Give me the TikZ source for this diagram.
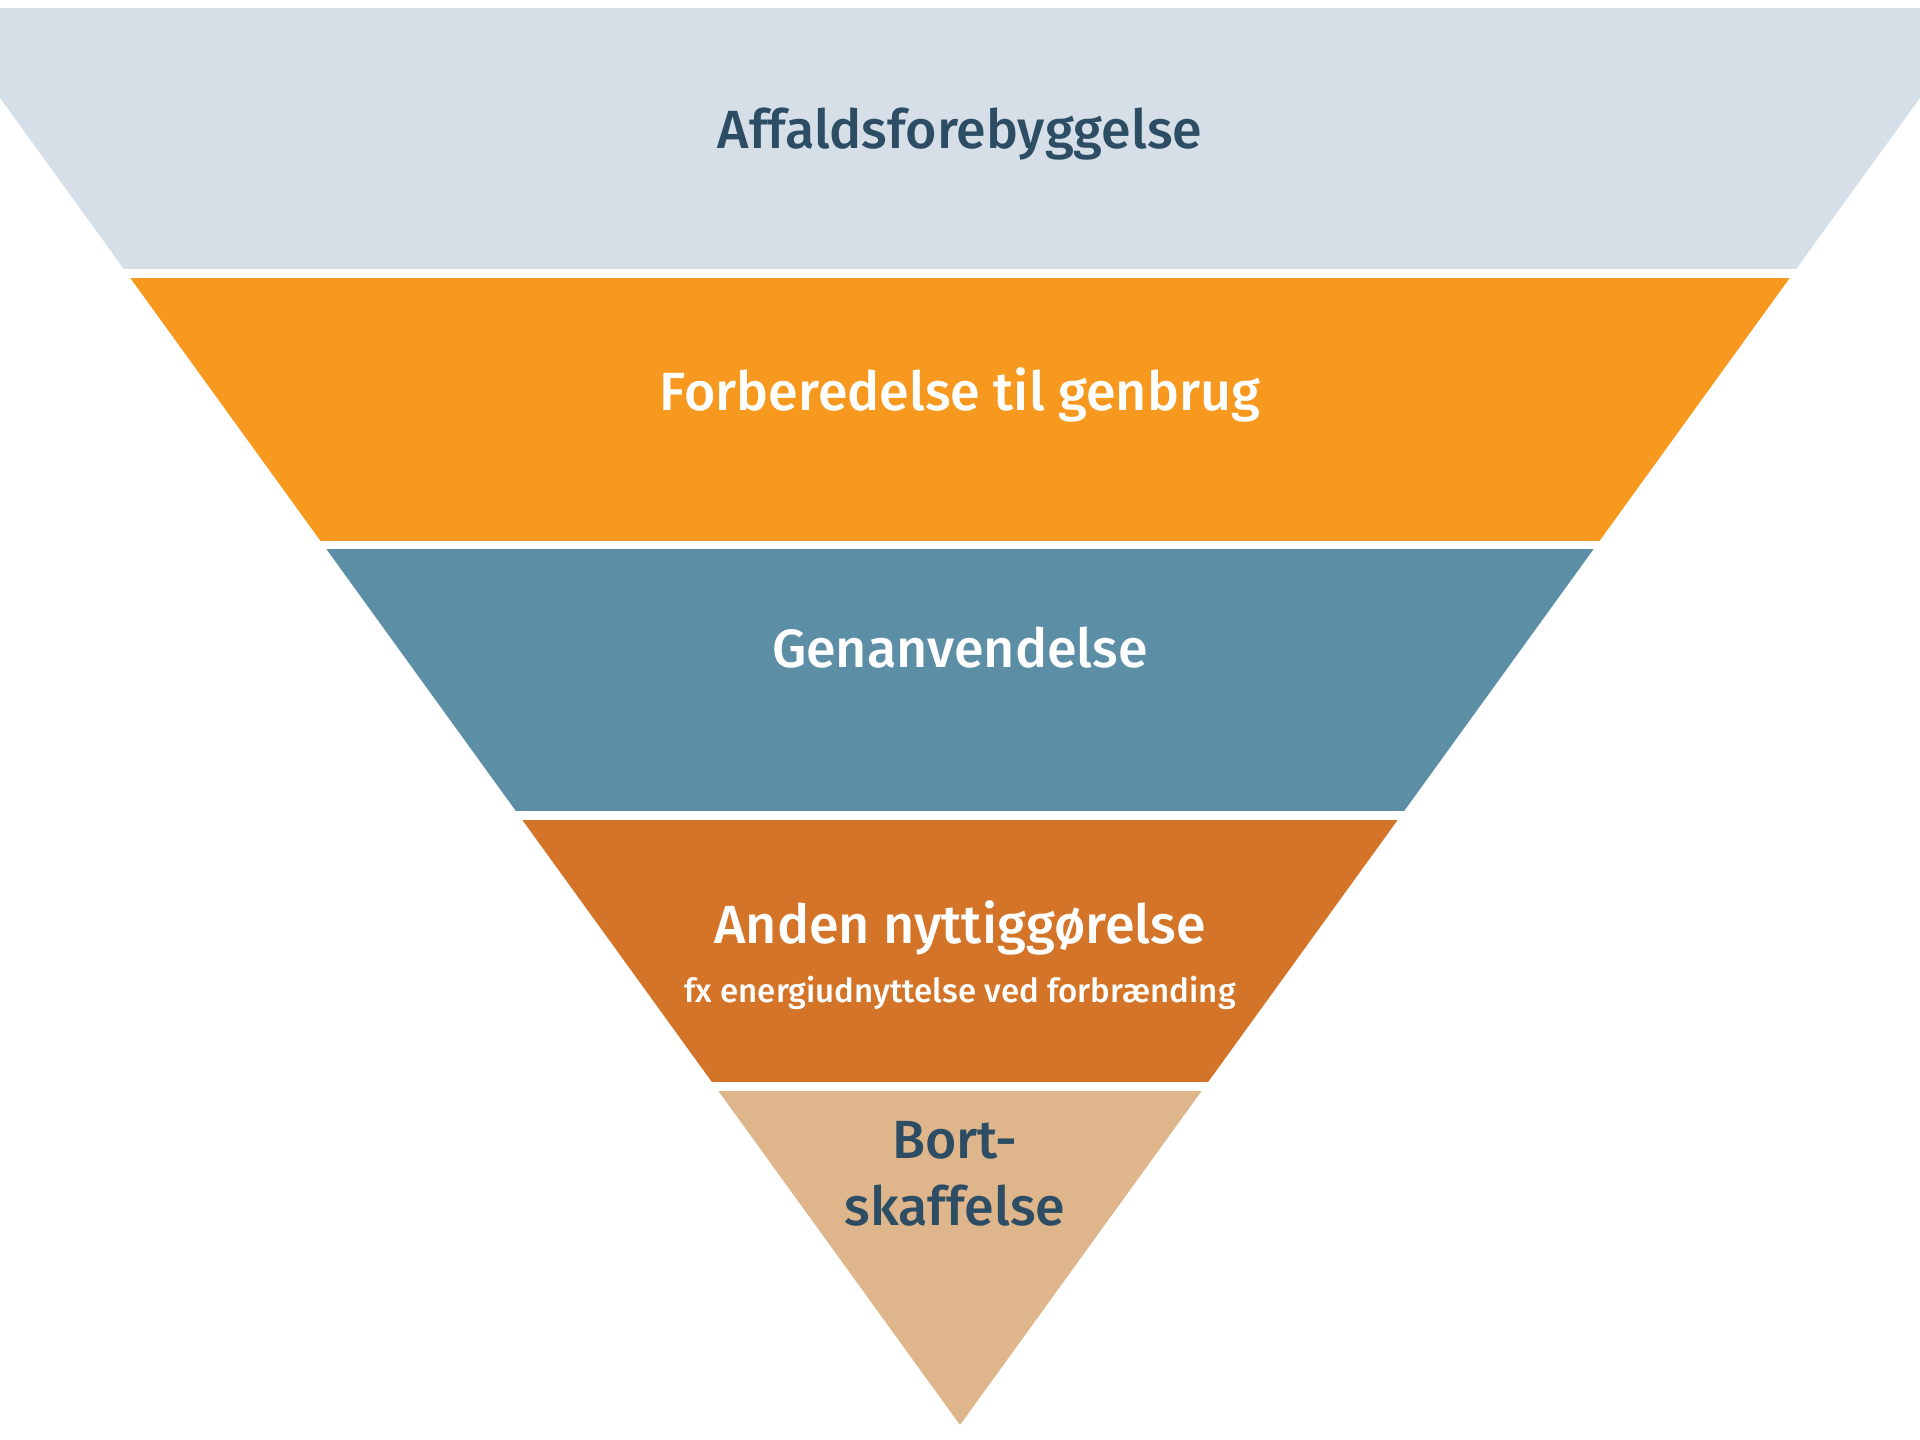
\documentclass[tikz,border=0pt]{standalone}
\usepackage{fontspec}
\setmainfont{Fira Sans}[UprightFont=* Medium]
\definecolor{bandA}{HTML}{D6DFE8}
\definecolor{bandB}{HTML}{F7991E}
\definecolor{bandC}{HTML}{5C8EA6}
\definecolor{bandD}{HTML}{D47428}
\definecolor{bandE}{HTML}{DFB68C}
\definecolor{darktext}{HTML}{2D4D64}
\tikzset{
  label/.style={font=\fontsize{15.3}{19}\selectfont, align=center, inner sep=0pt},
  sublabel/.style={font=\fontsize{9.4}{12}\selectfont, align=center, inner sep=0pt}
}
\begin{document}
\begin{tikzpicture}[x=0.01cm,y=-0.01cm]
\useasboundingbox (0,0) rectangle (1920,1440);
\begin{scope}
  \clip (0,0) rectangle (1920,1440);
  \clip (-70.8,0) -- (1990.8,0) -- (960,1425) -- cycle;
  \fill[bandA] (-100,8) rectangle (2020,269);
  \fill[bandB] (-100,278) rectangle (2020,541);
  \fill[bandC] (-100,549) rectangle (2020,811);
  \fill[bandD] (-100,820) rectangle (2020,1082);
  \fill[bandE] (-100,1091) rectangle (2020,1440);
\end{scope}
\node[label, text=darktext] (t1) at (960,134) {Affaldsforebyggelse};
\node[label, text=white] (t2) at (960,395) {Forberedelse til genbrug};
\node[label, text=white] (t3) at (960,648) {Genanvendelse};
\node[label, text=white] (t4) at (960,928) {Anden nyttiggørelse};
\node[sublabel, text=white] (t4s) at (960,993) {fx energiudnyttelse ved forbrænding};
\node[label, text=darktext] (t5) at (955,1174) {Bort-\\skaffelse};
\end{tikzpicture}
\end{document}
